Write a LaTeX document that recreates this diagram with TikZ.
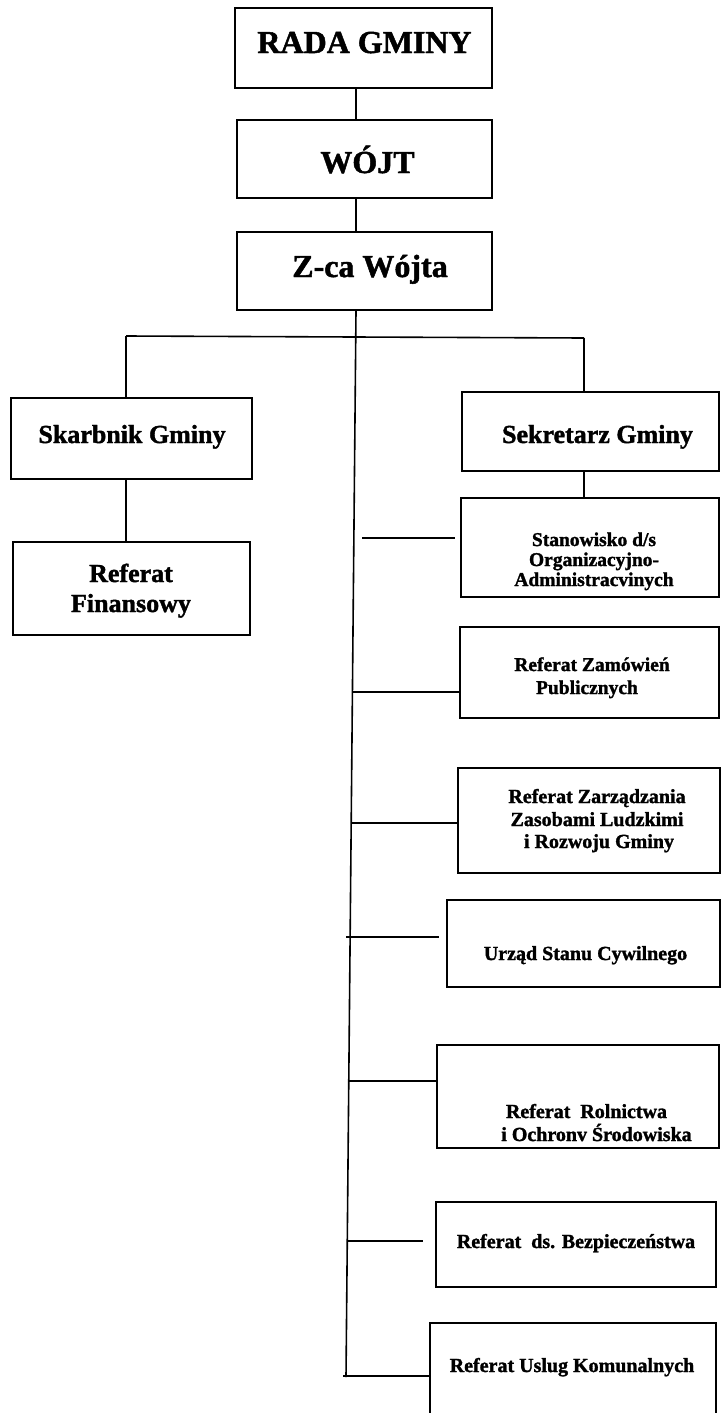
\documentclass[tikz,border=0pt]{standalone}
\usepackage{fontspec}
\setmainfont{Liberation Serif}
\newfontfamily\tnr{Liberation Serif}[BoldFeatures={FakeBold=1.5}]
\usetikzlibrary{calc}
\begin{document}
\begin{tikzpicture}[x=1pt,y=-1pt,
  box/.style={draw, line width=1.6pt, inner sep=0pt, rectangle},
  conn/.style={line width=1.6pt},
  tA/.style={anchor=base, inner sep=0pt, font=\tnr\bfseries\fontsize{32}{38}\selectfont},
  tB/.style={anchor=base, inner sep=0pt, font=\tnr\bfseries\fontsize{26}{30}\selectfont},
  tC/.style={anchor=base, inner sep=0pt, font=\tnr\bfseries\fontsize{19.5}{22}\selectfont},
  tD/.style={anchor=base, inner sep=0pt, font=\tnr\bfseries\fontsize{20}{23}\selectfont}]
\useasboundingbox (0,0) rectangle (721,1413);
\clip (0,0) rectangle (721,1413);
\fill[white] (0,0) rectangle (721,1413);

% boxes
\node[box, minimum width=257pt, minimum height=80pt] (rada) at (363.5,48) {};
\node[box, minimum width=255pt, minimum height=78pt] (wojt) at (364.5,159) {};
\node[box, minimum width=255pt, minimum height=78pt] (zca) at (364.5,271) {};
\node[box, minimum width=241pt, minimum height=81pt] (skarb) at (131.5,438.5) {};
\node[box, minimum width=237pt, minimum height=93pt] (fin) at (131.5,588.5) {};
\node[box, minimum width=257pt, minimum height=79pt] (sekr) at (590.5,431.5) {};
\node[box, minimum width=258pt, minimum height=99pt] (stan) at (590,547.5) {};
\node[box, minimum width=259pt, minimum height=91pt] (zam) at (589.5,672.5) {};
\node[box, minimum width=262pt, minimum height=105pt] (zarz) at (589,820.5) {};
\node[box, minimum width=273pt, minimum height=87pt] (usc) at (583.5,943.5) {};
\node[box, minimum width=282pt, minimum height=103pt] (roln) at (578,1096.5) {};
\node[box, minimum width=280pt, minimum height=85pt] (bezp) at (576,1244.5) {};
\node[box, minimum width=286pt, minimum height=117pt] (usl) at (573,1381.5) {};

% texts
\node[tA] (trada) at (364.5,53) {RADA GMINY};
\node[tA] (twojt) at (367.5,173) {WÓJT};
\node[tA] (tzca) at (370,277) {Z-ca Wójta};
\node[tB] (tskarb) at (132,443) {Skarbnik Gminy};
\node[tB] (tfin1) at (131,582) {Referat};
\node[tB] (tfin2) at (131,612) {Finansowy};
\node[tB] (tsekr) at (597.5,443) {Sekretarz Gminy};
\node[tC] (tstan1) at (594,546) {Stanowisko d/s};
\node[tC] (tstan2) at (594,566) {Organizacyjno-};
\node[tC] (tstan3) at (594,586) {Administracvinych};
\node[tC] (tzam1) at (592,671) {Referat Zamówień};
\node[tC] (tzam2) at (587,694) {Publicznych};
\node[tD] (tzarz1) at (597,803) {Referat Zarządzania};
\node[tD] (tzarz2) at (597,826) {Zasobami Ludzkimi};
\node[tD] (tzarz3) at (599,848) {i Rozwoju Gminy};
\node[tD] (tusc) at (585.5,960) {Urząd Stanu Cywilnego};
\node[tD] (troln1) at (586.5,1118) {Referat~ Rolnictwa};
\node[tD] (troln2) at (596.5,1141) {i Ochronv Środowiska};
\node[tD] (tbezp) at (576,1248) {Referat~ ds. Bezpieczeństwa};
\node[tD] (tusl) at (572,1372) {Referat Uslug Komunalnych};

% connector helper coordinates
\coordinate (cx) at (356,0);
\coordinate (lx) at (126,0);
\coordinate (rx) at (584,0);
\coordinate (bl) at (126,336);
\coordinate (br) at (584,338);
\coordinate (tb) at (346,1377);
\coordinate (s1a) at (362,538);   \coordinate (s1b) at (455,538);
\coordinate (s2) at (352.4,692);
\coordinate (s3) at (351.2,823);
\coordinate (s4a) at (346,937);   \coordinate (s4b) at (439,937);
\coordinate (s5) at (348.8,1081);
\coordinate (s6a) at (347.3,1241); \coordinate (s6b) at (423,1241);
\coordinate (s7) at (343,1376);

% connectors
\draw[conn] (rada.south -| cx) -- (wojt.north -| cx);
\draw[conn] (wojt.south -| cx) -- (zca.north -| cx);
\draw[conn] (zca.south -| cx) -- (tb);
\draw[conn] (bl) -- (br);
\draw[conn] (bl) -- (skarb.north -| lx);
\draw[conn] (skarb.south -| lx) -- (fin.north -| lx);
\draw[conn] (br) -- (sekr.north -| rx);
\draw[conn] (sekr.south -| rx) -- (stan.north -| rx);
\draw[conn] (s1a) -- (s1b);
\draw[conn] (s2) -- (s2 -| zam.west);
\draw[conn] (s3) -- (s3 -| zarz.west);
\draw[conn] (s4a) -- (s4b);
\draw[conn] (s5) -- (s5 -| roln.west);
\draw[conn] (s6a) -- (s6b);
\draw[conn] (s7) -- (s7 -| usl.west);
\end{tikzpicture}
\end{document}
